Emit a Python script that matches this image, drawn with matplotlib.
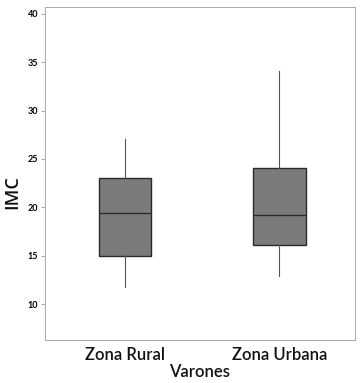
import matplotlib
matplotlib.use("Agg")
import matplotlib.pyplot as plt

categories = ["Zona Rural", "Zona Urbana"]
whisker_low = [11.8, 12.9]
q1 = [15.0, 16.1]
median = [19.4, 19.2]
q3 = [23.0, 24.1]
whisker_high = [27.1, 34.1]
yticks = [10, 15, 20, 25, 30, 35, 40]

stats = []
for i, c in enumerate(categories):
    stats.append(dict(label=c, whislo=whisker_low[i], q1=q1[i], med=median[i],
                      q3=q3[i], whishi=whisker_high[i], fliers=[]))

fig = plt.figure(figsize=(3.6, 3.83), dpi=100)
ax = fig.add_axes([45/360, 1-340/383, 310/360, 333/383])

ax.bxp(stats, positions=[0, 1], widths=0.34, patch_artist=True, showcaps=False,
       boxprops=dict(facecolor="#7b7b7b", edgecolor="#2a2a2a", linewidth=1.0),
       medianprops=dict(color="#2a2a2a", linewidth=1.0),
       whiskerprops=dict(color="#555555", linewidth=0.8))

ax.set_xlim(-0.52, 1.49)
ax.set_ylim(6.3, 40.7)
ax.set_yticks(yticks)
ax.set_yticklabels([str(v) for v in yticks], fontsize=6.5, fontweight="bold",
                   family=["Lato", "DejaVu Sans"])
ax.set_xticks([0, 1])
ax.set_xticklabels(categories, fontsize=12, family=["Lato", "DejaVu Sans"],
                   color="#111111", fontweight="semibold")
ax.tick_params(axis="x", length=0, pad=5)
ax.tick_params(axis="y", length=3, width=0.6, color="#999999", pad=2)
for s in ax.spines.values():
    s.set_linestyle((0, (1, 1)))
    s.set_color("#aaaaaa")
    s.set_linewidth(0.7)
ax.set_ylabel("IMC", fontsize=13, family=["Open Sans", "DejaVu Sans"], color="#111111",
              fontweight="semibold")
ax.yaxis.set_label_coords(-0.077, 0.444)
ax.set_xlabel("Varones", fontsize=12, family=["Lato", "DejaVu Sans"],
              color="#111111", fontweight="semibold")
ax.xaxis.set_label_coords(0.5, -0.072)

fig.savefig("out.png", dpi=100)
